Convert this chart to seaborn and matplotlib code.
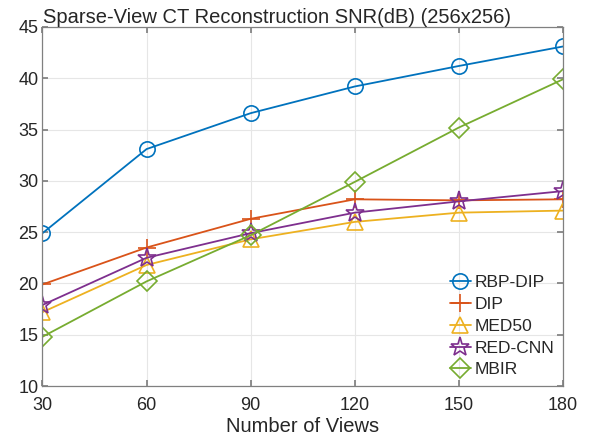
import numpy as np
import matplotlib
matplotlib.use("Agg")
import matplotlib.pyplot as plt
import seaborn as sns

# --------------------------------------------------------------
# Datos
# --------------------------------------------------------------
views = [30, 60, 90, 120, 150, 180]
rbp_dip = [24.9, 33.1, 36.6, 39.2, 41.2, 43.1]
dip = [19.9, 23.5, 26.3, 28.2, 28.1, 28.2]
med50 = [17.2, 21.8, 24.3, 26.0, 26.9, 27.1]
red_cnn = [17.9, 22.5, 24.9, 26.9, 28.0, 29.0]
mbir = [14.8, 20.2, 24.7, 29.9, 35.2, 39.9]

series_names = ["RBP-DIP", "DIP", "MED50", "RED-CNN", "MBIR"]
series_vals = [rbp_dip, dip, med50, red_cnn, mbir]
colors = ["#0072BD", "#D95319", "#EDB120", "#7E2F8E", "#77AC30"]
markers = ["o", "+", "^", "*", "D"]
msizes = [11, 13, 12, 14, 10]

sns.set_theme(style="whitegrid")
plt.rcParams["font.family"] = ["Liberation Sans", "DejaVu Sans"]

fig = plt.figure(figsize=(5.96, 4.41), dpi=100)
ax = fig.add_axes([0.0713, 0.1247, 0.8733, 0.8141])

for name, vals, c, m, ms in zip(series_names, series_vals, colors, markers, msizes):
    sns.lineplot(x=views, y=vals, ax=ax, color=c, marker=m, markersize=ms,
                 markerfacecolor="none", markeredgecolor=c, markeredgewidth=1.2,
                 linewidth=1.3, label=name)

ax.set_xlim(30, 180)
ax.set_ylim(10, 45)
ax.set_xticks(views)
ax.set_yticks(np.arange(10, 46, 5))
ax.tick_params(axis="both", labelsize=13, direction="in", length=4, color="#808080",
               right=True, top=True, left=True, bottom=True)
ax.tick_params(axis="x", pad=8)
ax.tick_params(axis="y", pad=3)
ax.grid(True, color="#e6e6e6", linewidth=0.8)
for s in ax.spines.values():
    s.set_visible(True)
    s.set_color("#808080")
    s.set_linewidth(0.9)

ax.set_xlabel("Number of Views", fontsize=14.5, labelpad=2)
ax.set_ylabel("")
fig.text(0.072, 0.948, "Sparse-View CT Reconstruction SNR(dB) (256x256)",
         fontsize=14.5, ha="left", va="baseline")

ax.legend(loc="lower right", bbox_to_anchor=(1.004, -0.005), frameon=False, fontsize=12.5,
          handlelength=1.2, labelspacing=0.38, handletextpad=0.25, borderaxespad=0.2)

fig.savefig("out.png", dpi=100)
